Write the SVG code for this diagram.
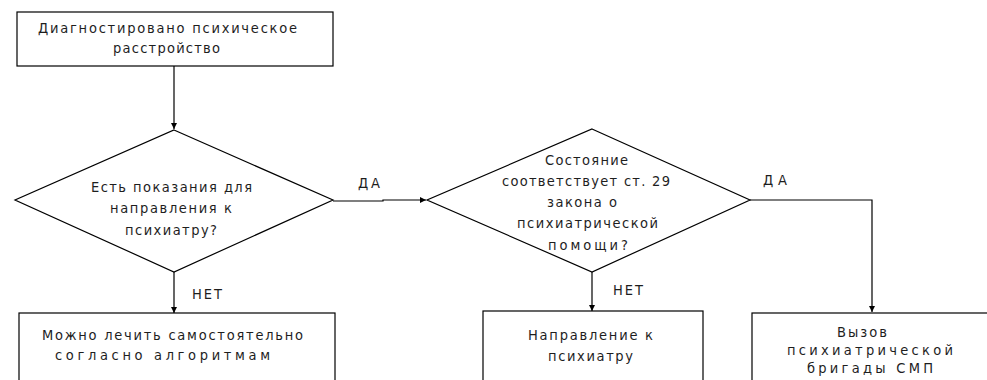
<svg xmlns="http://www.w3.org/2000/svg" width="987" height="380" viewBox="0 0 987 380">
<defs>
<marker id="ah" viewBox="0 0 6 6" refX="6" refY="3" markerWidth="6" markerHeight="6" orient="auto" markerUnits="userSpaceOnUse">
<path d="M0,0 L6,3 L0,6 Z" fill="#000"/>
</marker>
</defs>
<style>
.s{fill:#fff;stroke:#000;stroke-width:1.2}
.c{fill:none;stroke:#000;stroke-width:1.2}
text{font-family:"DejaVu Sans","Liberation Sans",sans-serif;font-stretch:condensed;font-size:14.5px;fill:#1e1e1e;text-anchor:start}
</style>
<rect width="987" height="380" fill="#fff"/>
<g id="connectors">
<path class="c" d="M174,66 V129" marker-end="url(#ah)"/>
<path class="c" d="M333,201 H383 V200 H426" marker-end="url(#ah)"/>
<path class="c" d="M174,272 V313" marker-end="url(#ah)"/>
<path class="c" d="M592,272 V311" marker-end="url(#ah)"/>
<path class="c" d="M750,200 H872 V312" marker-end="url(#ah)"/>
</g>
<g id="n1">
<rect class="s" x="17" y="12" width="316" height="54"/>
<text x="38" y="33" textLength="259" lengthAdjust="spacing">Диагностировано психическое</text>
<text x="113" y="53" textLength="107" lengthAdjust="spacing">расстройство</text>
</g>
<g id="d1">
<polygon class="s" points="174,130 333,200 174,272 15,200"/>
<text x="91" y="192" textLength="161" lengthAdjust="spacing">Есть показания для</text>
<text x="110" y="213" textLength="122" lengthAdjust="spacing">направления к</text>
<text x="125" y="235" textLength="92" lengthAdjust="spacing">психиатру?</text>
</g>
<g id="d2">
<polygon class="s" points="592,129 750,200 592,272 427,200"/>
<text x="545" y="165" textLength="83" lengthAdjust="spacing">Состояние</text>
<text x="502" y="186" textLength="168" lengthAdjust="spacing">соответствует ст. 29</text>
<text x="547" y="207" textLength="70" lengthAdjust="spacing">закона о</text>
<text x="517" y="228" textLength="141" lengthAdjust="spacing">психиатрической</text>
<text x="548" y="250" textLength="80" lengthAdjust="spacing">помощи?</text>
</g>
<g id="n2">
<rect class="s" x="19" y="313" width="316" height="80"/>
<text x="42" y="340" textLength="261" lengthAdjust="spacing">Можно лечить самостоятельно</text>
<text x="55" y="360" textLength="215" lengthAdjust="spacing">согласно алгоритмам</text>
</g>
<g id="n3">
<rect class="s" x="483" y="311" width="220" height="80"/>
<text x="528" y="340" textLength="125" lengthAdjust="spacing">Направление к</text>
<text x="548" y="361" textLength="85" lengthAdjust="spacing">психиатру</text>
</g>
<g id="n4">
<rect class="s" x="752" y="313" width="250" height="80"/>
<text x="837" y="337" textLength="50" lengthAdjust="spacing">Вызов</text>
<text x="787" y="355" textLength="166" lengthAdjust="spacing">психиатрической</text>
<text x="807" y="373" textLength="126" lengthAdjust="spacing">бригады СМП</text>
</g>
<g id="labels">
<text x="358" y="188" textLength="22" lengthAdjust="spacing">ДА</text>
<text x="763" y="185" textLength="24" lengthAdjust="spacing">ДА</text>
<text x="192" y="299" textLength="30" lengthAdjust="spacing">НЕТ</text>
<text x="613" y="295" textLength="30" lengthAdjust="spacing">НЕТ</text>
</g>
</svg>
